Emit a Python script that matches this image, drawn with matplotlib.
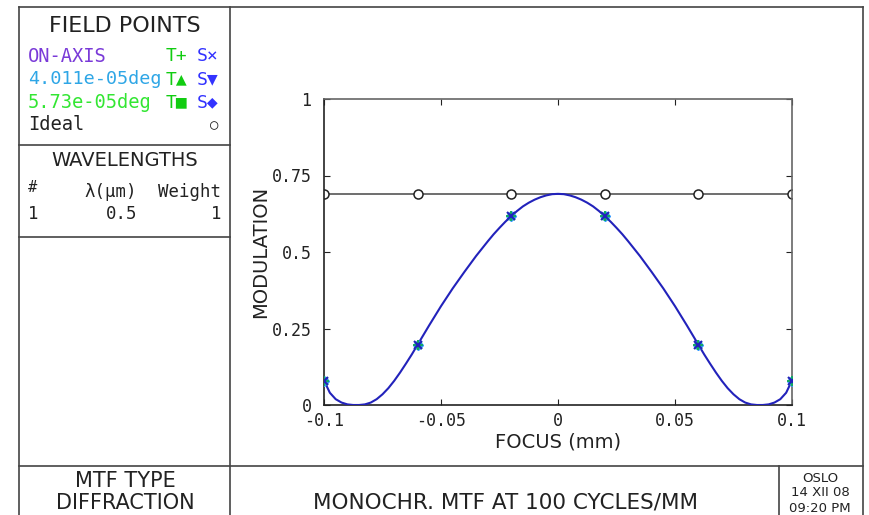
import matplotlib
matplotlib.use("Agg")
import matplotlib.pyplot as plt
from matplotlib.lines import Line2D

# --- data ---
focus = [-0.1000, -0.0975, -0.0950, -0.0925, -0.0900, -0.0875, -0.0850, -0.0825,
         -0.0800, -0.0775, -0.0750, -0.0725, -0.0700, -0.0675, -0.0650, -0.0625,
         -0.0600, -0.0575, -0.0550, -0.0525, -0.0500, -0.0475, -0.0450, -0.0425,
         -0.0400, -0.0375, -0.0350, -0.0325, -0.0300, -0.0275, -0.0250, -0.0225,
         -0.0200, -0.0175, -0.0150, -0.0125, -0.0100, -0.0075, -0.0050, -0.0025,
         0.0000,
         0.0025, 0.0050, 0.0075, 0.0100, 0.0125, 0.0150, 0.0175, 0.0200,
         0.0225, 0.0250, 0.0275, 0.0300, 0.0325, 0.0350, 0.0375, 0.0400,
         0.0425, 0.0450, 0.0475, 0.0500, 0.0525, 0.0550, 0.0575, 0.0600,
         0.0625, 0.0650, 0.0675, 0.0700, 0.0725, 0.0750, 0.0775, 0.0800,
         0.0825, 0.0850, 0.0875, 0.0900, 0.0925, 0.0950, 0.0975, 0.1000]
mtf = [0.080, 0.040, 0.019, 0.008, 0.002, 0.000, 0.000, 0.002,
       0.008, 0.019, 0.035, 0.055, 0.079, 0.106, 0.135, 0.165,
       0.197, 0.229, 0.261, 0.292, 0.323, 0.352, 0.381, 0.408,
       0.435, 0.461, 0.487, 0.511, 0.535, 0.558, 0.579, 0.599,
       0.617, 0.634, 0.649, 0.661, 0.671, 0.679, 0.685, 0.689,
       0.690,
       0.689, 0.685, 0.679, 0.671, 0.661, 0.649, 0.634, 0.617,
       0.599, 0.579, 0.558, 0.535, 0.511, 0.487, 0.461, 0.435,
       0.408, 0.381, 0.352, 0.323, 0.292, 0.261, 0.229, 0.197,
       0.165, 0.135, 0.106, 0.079, 0.055, 0.035, 0.019, 0.008,
       0.002, 0.000, 0.000, 0.002, 0.008, 0.019, 0.040, 0.080]

sample_focus = [-0.1, -0.06, -0.02, 0.02, 0.06, 0.1]
sample_mtf = [0.080, 0.197, 0.617, 0.617, 0.197, 0.080]
ideal_mtf = [0.690, 0.690, 0.690, 0.690, 0.690, 0.690]

xticks = [-0.1, -0.05, 0, 0.05, 0.1]
xtick_labels = ["-0.1", "-0.05", "0", "0.05", "0.1"]
yticks = [0, 0.25, 0.5, 0.75, 1]
ytick_labels = ["0", "0.25", "0.5", "0.75", "1"]

W, H = 869, 515
fig = plt.figure(figsize=(W / 100, H / 100), dpi=100)

def fx(px):
    return px / W

def fy(py):
    return 1 - py / H

def hline(y, x0, x1, c="#444444"):
    fig.add_artist(Line2D([fx(x0), fx(x1)], [fy(y), fy(y)], color=c, lw=1.2))

def vline(x, y0, y1, c="#444444"):
    fig.add_artist(Line2D([fx(x), fx(x)], [fy(y0), fy(y1)], color=c, lw=1.2))

def txt(x, y, s, size=13, ha="center", color="#222222", mono=False):
    fam = "DejaVu Sans Mono" if mono else "DejaVu Sans"
    fig.text(fx(x), fy(y), s, fontsize=size, ha=ha, va="center",
             color=color, family=fam)

# frame
hline(7, 19, 863)
vline(19, 7, 520)
vline(863, 7, 520)
vline(230, 7, 520)
hline(145, 19, 230)
hline(237, 19, 230)
hline(466, 19, 863)
vline(779, 466, 520)

# left panel text
txt(125, 26, "FIELD POINTS", size=16)
txt(28, 56, "ON-AXIS", size=13.5, ha="left", color="#7a3ad8", mono=True)
txt(28, 79, "4.011e-05deg", size=13.3, ha="left", color="#2ea6e6", mono=True)
txt(28, 102, "5.73e-05deg", size=13.5, ha="left", color="#33e633", mono=True)
txt(28, 125, "Ideal", size=13.5, ha="left", mono=True)
green = "#11cc11"
blue = "#3333ff"
txt(166, 56, "T+", size=13, ha="left", color=green, mono=True)
txt(197, 56, "S\u00d7", size=13, ha="left", color=blue, mono=True)
txt(166, 79, "T\u25b2", size=13, ha="left", color=green, mono=True)
txt(197, 79, "S\u25bc", size=13, ha="left", color=blue, mono=True)
txt(166, 102, "T\u25a0", size=13, ha="left", color=green, mono=True)
txt(197, 102, "S\u25c6", size=13, ha="left", color=blue, mono=True)
txt(214, 125, "\u25cb", size=10, ha="center", mono=True)

txt(125, 161, "WAVELENGTHS", size=14)
txt(28, 187, "#", size=11, ha="left", mono=True)
txt(137, 192, "\u03bb(\u03bcm)", size=12.5, ha="right", mono=True)
txt(221, 192, "Weight", size=12.5, ha="right", mono=True)
txt(28, 214, "1", size=12.5, ha="left", mono=True)
txt(137, 214, "0.5", size=12.5, ha="right", mono=True)
txt(221, 214, "1", size=12.5, ha="right", mono=True)

# bottom band
txt(125, 481, "MTF TYPE", size=15)
txt(125, 503, "DIFFRACTION", size=15)
txt(505, 503, "MONOCHR. MTF AT 100 CYCLES/MM", size=15.5)
txt(820, 478, "OSLO", size=9.5)
txt(820, 493, "14 XII 08", size=9.5)
txt(820, 508, "09:20 PM", size=9.5)

# plot
ax = fig.add_axes([fx(324), fy(405), fx(792) - fx(324), fy(99) - fy(405)])
ax.plot(sample_focus, ideal_mtf, color="#555555", lw=1.2, marker="o",
        mfc="white", mec="#222222", ms=6.5, mew=1.1, zorder=2)
ax.plot(focus, mtf, color="#2222bb", lw=1.5, zorder=3)
ax.plot(sample_focus, sample_mtf, ls="none", marker="s", ms=5, color="#33dd33", zorder=4)
ax.plot(sample_focus, sample_mtf, ls="none", marker="D", ms=5, color="#3399ff", zorder=4)
ax.plot(sample_focus, sample_mtf, ls="none", marker="^", ms=5, color="#22bbaa", zorder=4)
ax.plot(sample_focus, sample_mtf, ls="none", marker="v", ms=5, color="#2288ee", zorder=4)
ax.plot(sample_focus, sample_mtf, ls="none", marker="+", ms=7, mew=1.3, color="#11aa55", zorder=5)
ax.plot(sample_focus, sample_mtf, ls="none", marker="x", ms=6, mew=1.5, color="#2222bb", zorder=6)

ax.set_xlim(-0.1, 0.1)
ax.set_ylim(0, 1)
ax.set_xticks(xticks)
ax.set_xticklabels(xtick_labels, family="DejaVu Sans Mono", fontsize=12)
ax.set_yticks(yticks)
ax.set_yticklabels(ytick_labels, family="DejaVu Sans Mono", fontsize=12)
ax.tick_params(direction="in", length=4, top=True, right=True,
               colors="#222222")
ax.tick_params(axis="y", pad=9)
ax.tick_params(axis="x", pad=5)
for s in ax.spines.values():
    s.set_linewidth(1.2)
    s.set_color("#222222")
ax.spines["top"].set_color("#666666")
ax.spines["right"].set_color("#666666")
ax.set_xlabel("FOCUS (mm)", fontsize=14, labelpad=2, color="#222222")
ax.set_ylabel("MODULATION", fontsize=14, labelpad=1, color="#222222")
ax.patch.set_alpha(0)

fig.savefig("out.png", dpi=100)
